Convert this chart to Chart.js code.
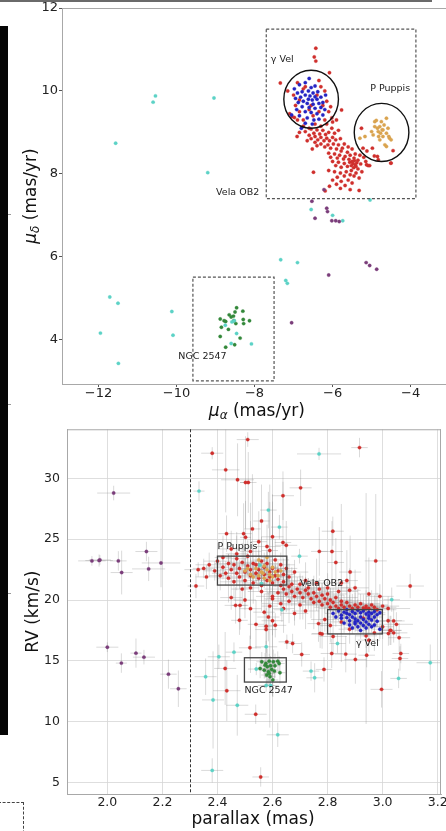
<!DOCTYPE html>
<html lang="en">
<head>
<meta charset="UTF-8">
<title>Vela OB2 proper motions and radial velocities</title>
<script src="https://cdn.jsdelivr.net/npm/chart.js"></script>
<style>
  html, body { margin: 0; padding: 0; background: #fff; overflow: hidden; width: 446px; height: 831px; position: relative; }
  canvas { position: absolute; left: 0; }
  #pmChart { top: 0; }
  #rvChart { top: 416px; }
  .strip { position: absolute; left: 0; top: 26px; width: 8px; height: 709px; background: #060606; }
  .topbar { position: absolute; left: 0; top: 0; width: 432px; height: 2px; background: #6a6a6a; }
  .nick { position: absolute; left: 8px; width: 3px; height: 1px; background: #999; }
  .corner { position: absolute; left: -2px; top: 802px; width: 25px; height: 40px; border-top: 1px dashed #444; border-right: 1px dashed #444; }
</style>
</head>
<body>
<div class="topbar"></div>
<div class="strip"></div>
<div class="nick" style="top:214px"></div>
<div class="nick" style="top:404px"></div>
<div class="nick" style="top:593px"></div>
<div class="corner"></div>
<canvas id="pmChart" width="450" height="424"></canvas>
<canvas id="rvChart" width="460" height="415"></canvas>

<script>
// ---- tick labels ----
const pmXTicks = [-12, -10, -8, -6, -4];
const pmYTicks = [4, 6, 8, 10, 12];
const rvXTicks = [2.0, 2.2, 2.4, 2.6, 2.8, 3.0, 3.2];
const rvYTicks = [5, 10, 15, 20, 25, 30];

// ---- proper motions [mu_alpha, mu_delta] ----
const pmRed = [
  [-6.43,11.03],[-6.47,10.82],[-6.43,10.72],[-6.08,10.44],[-7.34,10.19],[-5.77,9.54],[-6.91,8.9],[-6.49,8.04],[-5.32,7.6],[-6.19,7.59],
  [-6.9,10.2],[-6.75,10.05],[-6.3,10.1],[-6.2,10.0],[-6.15,9.75],[-6.1,9.5],[-6.95,9.65],[-7.0,9.9],[-6.85,9.5],[-6.6,9.55],
  [-6.35,9.5],[-6.5,9.4],[-6.2,9.3],[-6.75,9.3],[-6.45,9.2],[-6.3,9.15],[-6.6,9.1],[-6.9,9.3],[-6.15,9.2],[-7.1,9.45],
  [-6.55,9.65],[-6.4,9.9],[-6.7,10.1],[-6.35,10.25],[-6.85,9.78],[-6.25,9.65],[-7.04,9.38],[-6.98,9.36],[-6.05,9.62],[-6.02,9.35],
  [-6.55,9.08],[-6.4,9.06],[-6.25,9.05],[-6.7,9.02],[-6.1,9.0],[-6.48,8.98],[-6.33,8.96],[-6.18,8.95],[-6.6,8.93],[-5.95,8.98],
  [-6.02,9.1],[-5.85,9.05],[-6.45,8.9],[-6.3,8.88],[-6.15,8.86],[-6.0,8.88],[-6.55,8.85],[-6.38,8.82],[-6.22,8.8],[-6.08,8.8],
  [-5.92,8.82],[-5.8,8.85],[-6.65,8.8],[-6.45,8.76],[-6.3,8.72],[-6.12,8.7],[-5.98,8.72],[-5.85,8.7],[-5.7,8.72],[-6.2,8.65],
  [-6.05,8.62],[-5.9,8.6],[-5.75,8.62],[-5.6,8.65],[-6.4,8.68],[-5.5,8.6],[-5.78,8.55],[-5.62,8.52],[-6.1,8.5],[-5.95,8.48],
  [-5.82,8.45],[-5.68,8.42],[-5.55,8.45],[-5.42,8.48],[-5.3,8.45],[-6.05,8.4],[-5.88,8.38],[-5.72,8.36],[-5.58,8.35],[-5.45,8.38],
  [-5.35,8.33],[-5.2,8.4],[-6.0,8.3],[-5.85,8.28],[-5.7,8.25],[-5.56,8.28],[-5.48,8.25],[-5.42,8.22],[-5.52,8.2],[-5.38,8.27],
  [-5.28,8.24],[-5.15,8.3],[-5.62,8.18],[-5.78,8.16],[-5.92,8.2],[-5.46,8.15],[-5.35,8.12],[-5.5,8.3],[-5.44,8.32],[-5.4,8.18],
  [-6.1,8.08],[-5.95,8.05],[-5.8,8.02],[-5.65,8.05],[-5.52,8.08],[-5.4,8.02],[-5.25,8.05],[-5.7,7.95],[-5.55,7.98],[-5.88,7.92],
  [-5.45,7.95],[-5.32,7.9],[-6.0,7.85],[-5.78,7.82],[-5.6,7.85],[-5.9,7.75],[-5.68,7.72],[-5.5,7.78],[-5.8,7.65],[-6.08,7.7],
  [-5.55,7.62],[-5.05,8.2],[-4.93,8.43],[-4.83,8.34],[-4.45,8.56],[-4.51,8.26],[-5.13,8.22],[-5.26,9.1],[-4.85,8.42],[-4.5,8.26],
  [-5.09,8.2],[-6.75,9.15],[-6.85,9.0],[-6.0,9.25],[-5.9,9.3],[-7.15,10.0],[-5.12,8.55],[-4.98,8.62],[-5.22,8.62],[-6.52,8.6]
];
const pmBlue = [
  [-6.85,10.15],[-6.7,10.2],[-6.55,10.08],[-6.45,10.12],[-6.62,10.0],[-6.78,9.98],[-6.9,9.95],[-6.5,9.95],[-6.38,9.98],[-6.7,9.9],
  [-6.58,9.88],[-6.45,9.86],[-6.82,9.85],[-6.95,9.82],[-6.62,9.8],[-6.52,9.78],[-6.4,9.8],[-6.3,9.85],[-6.75,9.75],[-6.88,9.72],
  [-6.65,9.7],[-6.5,9.68],[-6.35,9.7],[-6.25,9.72],[-6.78,9.62],[-6.6,9.6],[-6.45,9.58],[-6.3,9.6],[-6.2,9.55],[-6.92,9.55],
  [-6.7,9.5],[-6.55,9.48],[-6.4,9.45],[-6.25,9.42],[-7.05,9.42],[-6.85,9.4],[-6.65,9.35],[-6.48,9.3],[-6.35,9.32],[-6.7,9.22],
  [-6.52,9.2],[-6.8,9.1],[-6.6,10.3],[-6.98,10.05],[-6.18,9.9]
];
const pmOrange = [
  [-4.88,9.29],[-4.75,9.26],[-4.62,9.34],[-4.92,9.14],[-4.79,9.14],[-4.68,9.18],[-4.58,9.1],[-5.0,9.02],[-4.83,9.02],[-4.73,9.06],
  [-4.62,8.98],[-4.54,8.86],[-4.71,8.9],[-4.82,8.9],[-4.96,8.94],[-5.3,8.86],[-5.17,8.9],[-4.62,8.66],[-4.66,8.7],[-4.79,8.82],
  [-4.5,8.82],[-4.92,9.26],[-4.71,9.06],[-4.77,8.98],[-4.56,8.9],[-4.85,9.1]
];
const pmCyan = [
  [-10.54,9.88],[-10.6,9.73],[-9.04,9.83],[-11.56,8.74],[-9.2,8.03],[-5.04,7.37],[-6.55,7.14],[-6.0,7.0],[-5.74,6.87],[-7.33,5.93],
  [-6.9,5.86],[-7.2,5.43],[-7.16,5.36],[-11.71,5.03],[-11.5,4.88],[-11.95,4.16],[-11.49,3.43],[-10.12,4.68],[-10.09,4.11],[-8.08,3.9],
  [-8.75,4.35],[-8.6,3.91],[-8.52,4.46],[-8.46,4.15],[-8.58,4.43]
];
const pmGreen = [
  [-8.88,4.5],[-8.46,4.77],[-8.3,4.69],[-8.54,4.57],[-8.5,4.67],[-8.65,4.6],[-8.6,4.55],[-8.78,4.46],[-8.29,4.49],[-8.13,4.46],
  [-8.85,4.3],[-8.67,4.25],[-8.48,4.39],[-8.28,4.39],[-8.88,4.08],[-8.37,4.04],[-8.74,3.82],[-8.51,3.88],[-8.74,4.44],[-8.53,4.46]
];
const pmPurple = [
  [-6.53,7.34],[-6.15,7.17],[-6.13,7.09],[-6.45,6.93],[-6.02,6.87],[-5.92,6.87],[-5.83,6.85],[-5.14,5.86],[-5.05,5.79],[-4.87,5.7],
  [-6.1,5.56],[-7.05,4.41],[-6.22,7.62]
];

// ---- parallax vs RV [parallax, RV, parallax error, RV error] ----
const rvRed = [
  [2.51,33.2,0.04,0.6],[2.381,32.08,0.04,0.5],[2.916,32.54,0.03,0.8],[2.43,30.71,0.05,3.5],[2.473,29.89,0.06,3.0],
  [2.502,29.67,0.02,3.8],[2.512,29.67,0.03,2.5],[2.702,29.23,0.04,1.5],[2.638,28.58,0.04,2.0],[2.819,25.66,0.04,1.2],
  [2.527,25.85,0.03,4.5],[2.433,25.46,0.03,1.5],[2.495,25.46,0.03,2.5],[2.502,25.16,0.02,3.0],[2.638,24.73,0.03,5.0],
  [2.816,23.99,0.04,2.5],[2.59,24.07,0.03,4.0],[2.975,23.22,0.04,5.5],[2.83,23.09,0.03,2.0],[2.322,21.15,0.03,1.0],
  [3.10,21.15,0.05,1.0],[2.882,22.3,0.04,3.0],[2.466,19.56,0.04,1.5],[2.482,19.56,0.03,2.0],[2.52,19.29,0.04,2.5],
  [2.48,18.33,0.03,1.2],[2.585,18.6,0.04,2.0],[2.577,17.84,0.03,1.5],[2.577,17.57,0.04,2.5],[2.61,17.92,0.04,1.0],
  [2.518,16.07,0.04,1.0],[2.652,16.56,0.03,0.6],[2.673,16.42,0.03,0.8],[2.706,15.52,0.03,1.0],[2.428,14.37,0.04,3.0],
  [2.434,12.54,0.05,2.5],[2.539,10.6,0.04,0.8],[2.557,5.44,0.03,0.8],[2.787,14.29,0.03,1.0],[2.815,15.6,0.04,1.2],
  [2.866,15.55,0.04,1.5],[2.901,15.11,0.04,2.0],[2.942,15.46,0.03,1.0],[2.996,12.65,0.04,1.5],[3.066,15.6,0.03,0.8],
  [3.063,15.19,0.03,1.0],[2.773,17.24,0.03,1.2],[2.767,18.06,0.04,1.5],[3.021,17.24,0.04,1.0],[3.027,17.5,0.04,1.2],
  [3.04,18.28,0.04,1.0],[2.56,26.5,0.03,3.0],[2.6,25.2,0.04,3.5],[2.65,24.5,0.04,2.0],[2.55,24.8,0.03,2.5],
  [2.47,23.8,0.04,1.5],[2.77,24.0,0.03,2.0],[2.87,21.6,0.04,2.5],[2.9,21.0,0.05,1.5],[2.95,20.5,0.04,3.0],
  [2.99,20.3,0.05,1.0],[2.88,20.8,0.04,1.8],[2.57,19.0,0.04,1.5],[2.54,18.0,0.03,2.0],[2.6,18.3,0.04,1.2],
  [2.68,18.9,0.05,1.0],[2.72,19.1,0.05,1.5],[2.64,19.3,0.04,2.0],[2.5,20.0,0.04,1.5],[2.45,20.2,0.04,1.0],
  [2.59,19.5,0.03,10.0],[2.94,19.3,0.04,9.5],[2.6,20.1,0.03,8.0],[2.52,21.0,0.03,7.0],[2.85,21.4,0.03,6.5],
  [2.37,22.9,0.05,1.0],[2.39,22.4,0.04,0.8],[2.40,23.2,0.05,1.5],[2.41,22.0,0.04,1.2],[2.42,22.7,0.06,0.8],
  [2.42,23.5,0.03,1.8],[2.43,22.2,0.05,1.0],[2.44,21.8,0.04,2.0],[2.44,23.0,0.05,0.8],[2.45,22.5,0.04,1.2],
  [2.46,21.5,0.05,1.5],[2.46,22.9,0.04,0.9],[2.47,22.2,0.06,1.4],[2.47,23.4,0.04,2.2],[2.48,21.9,0.05,1.0],
  [2.48,22.6,0.04,0.7],[2.49,23.1,0.05,1.6],[2.50,22.3,0.04,1.1],[2.50,21.6,0.05,2.4],[2.51,22.8,0.04,0.8],
  [2.51,23.6,0.05,1.3],[2.52,22.0,0.04,1.0],[2.52,22.5,0.05,0.9],[2.53,21.4,0.04,1.7],[2.53,23.0,0.05,1.2],
  [2.54,22.2,0.04,0.8],[2.54,22.9,0.05,1.5],[2.55,21.8,0.04,1.1],[2.55,22.5,0.05,0.9],[2.56,23.2,0.04,2.0],
  [2.56,21.2,0.05,1.4],[2.57,22.1,0.04,0.9],[2.57,22.7,0.05,1.2],[2.58,21.6,0.04,1.6],[2.58,23.0,0.05,1.0],
  [2.59,22.3,0.04,0.8],[2.59,21.9,0.05,1.3],[2.60,22.6,0.04,1.1],[2.60,21.4,0.05,2.0],[2.61,22.0,0.04,0.9],
  [2.61,23.3,0.05,1.7],[2.62,21.7,0.04,1.2],[2.62,22.4,0.05,0.8],[2.63,21.2,0.04,1.5],[2.63,22.9,0.05,1.0],
  [2.64,22.1,0.04,1.3],[2.64,21.5,0.05,0.9],[2.65,22.6,0.04,1.8],[2.66,21.9,0.05,1.1],[2.67,21.3,0.04,1.4],
  [2.68,22.3,0.05,1.0],[2.35,22.6,0.04,0.8],[2.33,22.5,0.05,0.6],[2.36,21.9,0.04,1.0],[2.45,24.2,0.05,1.5],
  [2.52,24.0,0.04,2.5],[2.58,24.4,0.05,1.8],[2.49,20.9,0.04,1.2],[2.56,20.7,0.05,1.6],[2.62,20.6,0.04,1.0],
  [2.64,20.9,0.07,1.0],[2.65,20.5,0.08,1.5],[2.66,21.1,0.06,0.8],[2.67,20.7,0.08,1.2],[2.68,20.3,0.07,2.0],
  [2.69,20.9,0.06,1.0],[2.70,20.6,0.08,1.4],[2.70,21.3,0.07,0.9],[2.71,20.2,0.06,1.8],[2.72,20.8,0.08,1.1],
  [2.73,20.5,0.07,1.3],[2.73,21.0,0.06,0.8],[2.74,20.1,0.08,1.6],[2.75,20.6,0.07,1.0],[2.75,19.8,0.06,2.2],
  [2.76,20.3,0.08,1.2],[2.77,20.9,0.07,0.9],[2.77,19.9,0.06,1.5],[2.78,20.4,0.08,1.0],[2.78,19.6,0.07,1.8],
  [2.79,20.1,0.06,1.2],[2.80,19.7,0.08,1.4],[2.80,20.5,0.07,0.8],[2.81,19.4,0.06,1.6],[2.81,20.0,0.08,1.0],
  [2.82,19.8,0.07,1.2],[2.83,19.5,0.06,0.9],[2.83,20.2,0.08,1.5],[2.84,19.3,0.07,1.1],[2.85,19.9,0.06,1.3],
  [2.85,19.6,0.08,0.8],[2.86,19.4,0.07,1.0],[2.87,19.8,0.06,1.4],[2.88,19.5,0.08,0.9],[2.89,19.3,0.07,1.2],
  [2.90,19.6,0.06,1.0],[2.91,19.4,0.08,1.5],[2.92,19.7,0.07,0.8],[2.93,19.35,0.06,1.1],[2.94,19.5,0.08,1.3],
  [2.95,19.3,0.07,0.9],[2.96,19.6,0.06,1.2],[2.97,19.4,0.08,1.0],[2.98,19.2,0.07,1.4],[3.00,19.5,0.06,0.8],
  [3.02,19.3,0.08,1.0],[2.72,21.6,0.07,1.5],[2.76,21.4,0.06,2.0],[2.80,21.0,0.08,1.2],[2.84,20.7,0.07,1.0],
  [2.66,19.9,0.06,1.8],[2.70,19.6,0.07,1.2],[2.60,20.3,0.06,1.5],[2.63,19.7,0.07,1.0],
  [2.85,18.2,0.04,1.0],[2.88,17.6,0.04,1.2],[2.93,18.5,0.04,0.8],[2.97,17.3,0.05,1.5],[3.0,17.8,0.04,1.0],
  [3.02,18.3,0.05,0.8],[3.03,17.5,0.04,1.2],[3.05,18.0,0.06,1.0],[2.81,17.9,0.04,1.4],[2.79,18.4,0.05,1.0],
  [2.78,17.2,0.04,1.2],[2.82,17.0,0.05,1.5],[2.94,17.05,0.04,1.0],[3.04,17.3,0.05,0.8],[3.06,16.9,0.04,1.2],
  [2.95,16.7,0.04,1.0]
];
const rvBlue = [
  [2.82,18.9,0.03,0.6],[2.84,19.1,0.03,0.5],[2.86,19.0,0.03,0.8],[2.87,19.2,0.02,0.6],[2.88,18.8,0.03,0.7],
  [2.89,19.05,0.03,0.5],[2.9,18.9,0.02,0.6],[2.91,19.15,0.03,0.9],[2.92,18.95,0.03,0.5],[2.93,19.1,0.02,0.7],
  [2.94,18.85,0.03,0.6],[2.95,19.0,0.03,0.8],[2.96,18.9,0.02,0.5],[2.97,19.05,0.03,0.6],[2.98,18.8,0.03,0.7],
  [2.99,18.95,0.02,0.5],[2.83,18.6,0.03,0.8],[2.85,18.5,0.03,0.6],[2.87,18.55,0.02,0.7],[2.88,18.3,0.03,0.5],
  [2.89,18.6,0.03,0.9],[2.9,18.45,0.02,0.6],[2.91,18.3,0.03,0.7],[2.92,18.6,0.03,0.5],[2.93,18.4,0.02,0.6],
  [2.94,18.2,0.03,0.8],[2.95,18.5,0.03,0.5],[2.96,18.35,0.02,0.7],[2.97,18.6,0.03,0.6],[2.98,18.25,0.03,0.5],
  [2.86,18.1,0.02,0.8],[2.88,17.95,0.03,0.6],[2.9,18.05,0.03,0.7],[2.91,17.8,0.02,0.5],[2.92,18.1,0.03,0.6],
  [2.93,17.9,0.03,0.9],[2.94,17.7,0.02,0.6],[2.95,18.0,0.03,0.7],[2.96,17.8,0.03,0.5],[2.97,17.95,0.02,0.6],
  [2.99,17.6,0.03,0.8],[2.89,17.7,0.03,0.5],[2.92,17.5,0.02,0.7],[2.85,18.75,0.03,0.6],[2.95,18.7,0.03,0.5],
  [2.9,18.2,0.02,0.6],[2.87,18.9,0.03,0.7]
];
const rvOrange = [
  [2.5,22.4,0.02,0.6],[2.52,22.1,0.02,0.5],[2.54,22.6,0.02,0.7],[2.55,22.0,0.02,0.5],[2.56,22.3,0.02,0.6],
  [2.57,21.8,0.02,0.8],[2.58,22.5,0.02,0.5],[2.59,22.1,0.02,0.6],[2.6,22.7,0.02,0.7],[2.6,21.9,0.02,0.5],
  [2.61,22.3,0.02,0.6],[2.53,21.9,0.02,0.5],[2.57,22.8,0.02,0.7],[2.62,22.0,0.02,0.6],[2.55,23.3,0.02,0.8],
  [2.58,23.5,0.02,0.5],[2.59,21.6,0.02,0.6],[2.51,22.6,0.02,0.5],[2.63,22.4,0.02,0.7],[2.565,22.2,0.02,0.6]
];
const rvCyan = [
  [2.333,28.96,0.02,0.8],[2.769,32.02,0.08,0.5],[2.585,27.4,0.03,1.5],[2.625,26.0,0.03,1.0],[2.698,23.61,0.03,0.6],
  [3.033,20.03,0.03,1.0],[2.634,19.2,0.03,1.0],[2.577,16.15,0.04,0.5],[2.46,15.71,0.03,0.8],[2.405,15.33,0.04,1.0],
  [2.357,13.69,0.04,1.5],[2.384,11.78,0.04,4.0],[2.472,11.34,0.04,2.5],[2.619,8.91,0.04,1.0],[2.381,5.98,0.04,1.0],
  [2.74,14.15,0.03,0.8],[2.753,13.6,0.03,1.2],[2.836,16.42,0.03,0.8],[3.058,13.55,0.03,0.8],[3.173,14.84,0.05,1.5],
  [2.541,14.32,0.03,0.5],[2.577,12.97,0.03,0.5],[2.593,12.97,0.03,0.5],[2.554,22.87,0.02,0.8],[2.56,21.37,0.02,0.8]
];
const rvGreen = [
  [2.561,14.92,0.02,0.8],[2.576,14.78,0.02,1.2],[2.588,14.97,0.02,0.6],[2.603,14.92,0.02,1.0],[2.619,14.97,0.02,0.8],
  [2.624,14.78,0.02,0.6],[2.581,14.51,0.02,1.5],[2.593,14.59,0.02,0.8],[2.609,14.59,0.02,1.0],[2.57,14.23,0.02,0.7],
  [2.585,14.1,0.02,1.2],[2.597,14.29,0.02,0.6],[2.627,14.02,0.02,0.9],[2.579,13.83,0.02,1.0],[2.591,13.69,0.02,0.8],
  [2.601,13.42,0.02,1.4],[2.588,13.96,0.02,0.6],[2.555,14.37,0.02,0.8],[2.607,14.15,0.02,0.7],[2.573,14.64,0.02,1.0]
];
const rvPurple = [
  [2.023,28.8,0.06,0.6],[1.944,23.22,0.05,0.4],[1.97,23.25,0.05,0.5],[1.973,23.3,0.04,0.4],[2.04,23.22,0.03,0.8],
  [2.142,23.99,0.04,0.8],[2.052,22.26,0.04,1.8],[2.15,22.56,0.06,1.0],[2.195,23.05,0.07,2.0],[2.0,16.12,0.04,0.4],
  [2.051,14.81,0.02,0.8],[2.104,15.63,0.02,1.2],[2.133,15.3,0.04,0.6],[2.222,13.9,0.03,1.2],[2.258,12.7,0.03,1.5]
];

const colors = { red: '#cf2f2c', blue: '#2424c4', orange: '#d9a34f', cyan: '#5cd2c6', green: '#33883a', purple: '#7a3d7a' };

Chart.defaults.font.family = 'DejaVu Sans';
Chart.defaults.color = '#222';

function pts(arr) {
  return arr.map(p => ({ x: p[0], y: p[1], ex: p[2] || 0, ey: p[3] || 0 }));
}

function ds(arr, color) {
  return {
    data: pts(arr), backgroundColor: color, borderColor: color + '88', borderWidth: 0.6,
    pointRadius: 1.7, pointHoverRadius: 1.7
  };
}

function minusFmt(v) {
  return (v < 0 ? '\u2212' : '') + Math.abs(v);
}

// draws text pieces (for math style subscripts) centred on 0,0
function drawParts(ctx, parts) {
  let total = 0;
  parts.forEach(p => { ctx.font = p.f; p.w = ctx.measureText(p.t).width; total += p.w; });
  let x = -total / 2;
  parts.forEach(p => {
    ctx.font = p.f;
    ctx.fillText(p.t, x, p.dy || 0);
    x += p.w;
  });
}

function overlay(cfg) {
  return {
    id: 'overlay',
    beforeDatasetsDraw(chart) {
      if (!cfg.errors) return;
      const { ctx, chartArea: a, scales: { x, y } } = chart;
      ctx.save();
      ctx.beginPath();
      ctx.rect(a.left, a.top, a.right - a.left, a.bottom - a.top);
      ctx.clip();
      ctx.strokeStyle = 'rgba(140,140,140,0.32)';
      ctx.lineWidth = 1;
      chart.data.datasets.forEach(d => {
        d.data.forEach(p => {
          const px = x.getPixelForValue(p.x), py = y.getPixelForValue(p.y);
          ctx.beginPath();
          ctx.moveTo(x.getPixelForValue(p.x - p.ex), py);
          ctx.lineTo(x.getPixelForValue(p.x + p.ex), py);
          ctx.moveTo(px, y.getPixelForValue(p.y - p.ey));
          ctx.lineTo(px, y.getPixelForValue(p.y + p.ey));
          ctx.stroke();
        });
      });
      ctx.restore();
    },
    afterDraw(chart) {
      const { ctx, chartArea: a, scales: { x, y } } = chart;
      ctx.save();
      // remaining spines
      ctx.strokeStyle = '#a8a8a8';
      ctx.lineWidth = 1;
      ctx.beginPath();
      ctx.moveTo(a.left, a.top + 0.5);
      ctx.lineTo(a.right, a.top + 0.5);
      if (cfg.rightSpine) {
        ctx.moveTo(a.right - 0.5, a.top);
        ctx.lineTo(a.right - 0.5, a.bottom);
      }
      ctx.stroke();

      (cfg.vlines || []).forEach(v => {
        ctx.strokeStyle = '#333';
        ctx.setLineDash([3, 2]);
        ctx.beginPath();
        const px = Math.round(x.getPixelForValue(v)) + 0.5;
        ctx.moveTo(px, a.top);
        ctx.lineTo(px, a.bottom);
        ctx.stroke();
      });

      (cfg.rects || []).forEach(r => {
        ctx.strokeStyle = r.dashed ? '#555' : '#444';
        ctx.lineWidth = r.dashed ? 1.2 : 1.3;
        ctx.setLineDash(r.dashed ? [3, 2] : []);
        const x0 = x.getPixelForValue(r.x0), x1 = x.getPixelForValue(r.x1);
        const y0 = y.getPixelForValue(r.y0), y1 = y.getPixelForValue(r.y1);
        ctx.strokeRect(x0, y1, x1 - x0, y0 - y1);
      });
      ctx.setLineDash([]);

      (cfg.circles || []).forEach(c => {
        const cx = x.getPixelForValue(c.x), cy = y.getPixelForValue(c.y);
        const rx = Math.abs(x.getPixelForValue(c.x + c.r) - cx);
        const ry = Math.abs(y.getPixelForValue(c.y + c.r) - cy);
        ctx.strokeStyle = '#111';
        ctx.lineWidth = 1.4;
        ctx.beginPath();
        ctx.ellipse(cx, cy, rx, ry, 0, 0, Math.PI * 2);
        ctx.stroke();
      });

      ctx.fillStyle = '#222';
      ctx.textBaseline = 'middle';
      ctx.textAlign = 'left';
      (cfg.labels || []).forEach(l => {
        ctx.font = '9.5px DejaVu Sans';
        ctx.fillText(l.text, x.getPixelForValue(l.x), y.getPixelForValue(l.y));
      });

      // axis titles
      ctx.fillStyle = '#111';
      ctx.save();
      ctx.translate((a.left + a.right) / 2 + cfg.xTitleDx, a.bottom + cfg.xTitleDy);
      drawParts(ctx, cfg.xTitle);
      ctx.restore();
      ctx.save();
      ctx.translate(cfg.yTitleX, (a.top + a.bottom) / 2);
      ctx.rotate(-Math.PI / 2);
      drawParts(ctx, cfg.yTitle);
      ctx.restore();
      ctx.restore();
    }
  };
}

const T = '17px DejaVu Sans', TI = 'italic 17px DejaVu Sans', TS = 'italic 12px DejaVu Sans';

// ---- top: proper motion plane ----
new Chart(document.getElementById('pmChart'), {
  type: 'scatter',
  data: {
    datasets: [
      ds(pmPurple, colors.purple), ds(pmCyan, colors.cyan), ds(pmGreen, colors.green),
      ds(pmOrange, colors.orange), ds(pmBlue, colors.blue), ds(pmRed, colors.red)
    ]
  },
  options: {
    responsive: false, animation: false, devicePixelRatio: 1,
    layout: { padding: { top: 8, left: 0, right: 0, bottom: 0 } },
    plugins: { legend: { display: false }, tooltip: { enabled: false } },
    scales: {
      x: {
        type: 'linear', min: -12.935, max: -3.05,
        afterBuildTicks: s => { s.ticks = pmXTicks.map(v => ({ value: v })); },
        afterFit: s => { s.height = 40; },
        ticks: { callback: minusFmt, font: { size: 13, lineHeight: 1 }, color: '#222', padding: 0, maxRotation: 0 },
        grid: { drawOnChartArea: false, drawTicks: true, tickLength: 3, tickColor: '#555' },
        border: { color: '#a8a8a8' }
      },
      y: {
        type: 'linear', min: 2.933, max: 12,
        afterBuildTicks: s => { s.ticks = pmYTicks.map(v => ({ value: v })); },
        afterFit: s => { s.width = 62; },
        ticks: { callback: minusFmt, font: { size: 13, lineHeight: 1 }, color: '#222', padding: 1 },
        grid: { drawOnChartArea: false, drawTicks: true, tickLength: 3, tickColor: '#555' },
        border: { color: '#a8a8a8' }
      }
    }
  },
  plugins: [overlay({
    rects: [
      { x0: -7.70, x1: -3.865, y0: 7.405, y1: 11.49, dashed: true },
      { x0: -9.58, x1: -7.50, y0: 3.01, y1: 5.51, dashed: true }
    ],
    circles: [
      { x: -6.55, y: 9.80, r: 0.70 },
      { x: -4.745, y: 9.0, r: 0.70 }
    ],
    labels: [
      { text: '\u03b3 Vel', x: -7.585, y: 10.75 },
      { text: 'P Puppis', x: -5.037, y: 10.06 },
      { text: 'Vela OB2', x: -8.986, y: 7.555 },
      { text: 'NGC 2547', x: -9.954, y: 3.60 }
    ],
    xTitle: [{ t: '\u03bc', f: TI }, { t: '\u03b1', f: TS, dy: 4 }, { t: ' (mas/yr)', f: T }],
    yTitle: [{ t: '\u03bc', f: TI }, { t: '\u03b4', f: TS, dy: 4 }, { t: ' (mas/yr)', f: T }],
    xTitleDx: 2, xTitleDy: 28, yTitleX: 32
  })]
});

// ---- bottom: parallax vs radial velocity ----
new Chart(document.getElementById('rvChart'), {
  type: 'scatter',
  data: {
    datasets: [
      ds(rvPurple, colors.purple), ds(rvGreen, colors.green), ds(rvBlue, colors.blue),
      ds(rvOrange, colors.orange), ds(rvCyan, colors.cyan), ds(rvRed, colors.red)
    ]
  },
  options: {
    responsive: false, animation: false, devicePixelRatio: 1,
    layout: { padding: { top: 13, left: 0, right: 19, bottom: 0 } },
    plugins: { legend: { display: false }, tooltip: { enabled: false } },
    scales: {
      x: {
        type: 'linear', min: 1.8535, max: 3.212,
        afterBuildTicks: s => { s.ticks = rvXTicks.map(v => ({ value: v })); },
        afterFit: s => { s.height = 37; },
        ticks: { callback: v => v.toFixed(1), font: { size: 12.5, lineHeight: 1 }, color: '#222', padding: 2, maxRotation: 0 },
        grid: { color: '#d6d6d6', lineWidth: 0.8, drawTicks: false },
        border: { color: '#a8a8a8' }
      },
      y: {
        type: 'linear', min: 4.04, max: 34.05,
        afterBuildTicks: s => { s.ticks = rvYTicks.map(v => ({ value: v })); },
        afterFit: s => { s.width = 67; },
        ticks: { font: { size: 12.5, lineHeight: 1 }, color: '#222', padding: 7 },
        grid: { color: '#d6d6d6', lineWidth: 0.8, drawTicks: false },
        border: { color: '#a8a8a8' }
      }
    }
  },
  plugins: [overlay({
    errors: true,
    rightSpine: true,
    vlines: [2.3],
    rects: [
      { x0: 2.4, x1: 2.652, y0: 21.23, y1: 23.61 },
      { x0: 2.8, x1: 2.999, y0: 17.21, y1: 19.21 },
      { x0: 2.498, x1: 2.65, y0: 13.25, y1: 15.25 }
    ],
    labels: [
      { text: 'P Puppis', x: 2.4, y: 24.37 },
      { text: 'Vela OB2', x: 2.70, y: 21.39 },
      { text: '\u03b3 Vel', x: 2.903, y: 16.39 },
      { text: 'NGC 2547', x: 2.498, y: 12.52 }
    ],
    xTitle: [{ t: 'parallax (mas)', f: T }],
    yTitle: [{ t: 'RV (km/s)', f: T }],
    xTitleDx: -1, xTitleDy: 26, yTitleX: 34
  })]
});
</script>
</body>
</html>
